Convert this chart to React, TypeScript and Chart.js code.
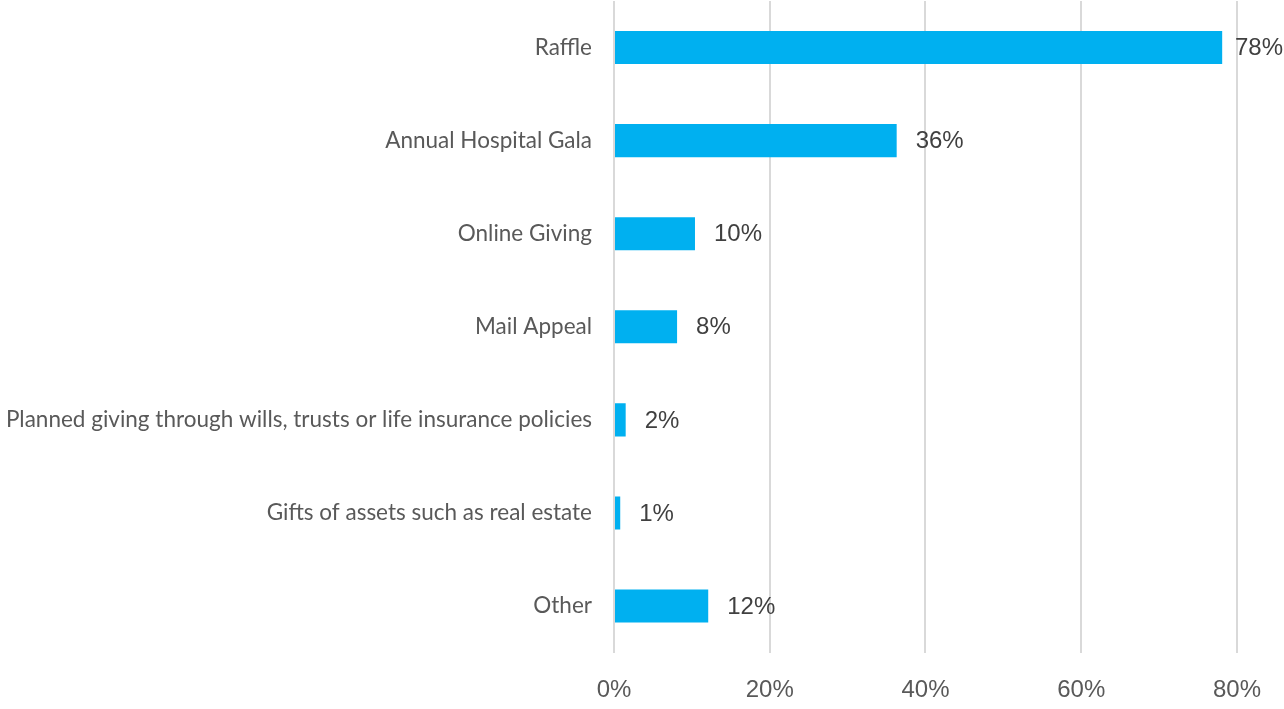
import React, { useEffect, useRef } from "react";
import { Chart, registerables } from "chart.js";

Chart.register(...registerables);

const categories = [
  "Raffle",
  "Annual Hospital Gala",
  "Online Giving",
  "Mail Appeal",
  "Planned giving through wills, trusts or life insurance policies",
  "Gifts of assets such as real estate",
  "Other",
];
const values = [78.1, 36.3, 10.4, 8.1, 1.5, 0.8, 12.1];
const valueLabels = ["78%", "36%", "10%", "8%", "2%", "1%", "12%"];
const xTicks = [0, 20, 40, 60, 80];

const W = 1284;
const H = 709;

const dataLabelPlugin = {
  id: "dataLabels",
  afterDatasetsDraw(chart: any) {
    const ctx = chart.ctx;
    const meta = chart.getDatasetMeta(0);
    ctx.save();
    ctx.font = "24px 'Liberation Sans', Arial, sans-serif";
    ctx.fillStyle = "#404040";
    ctx.textBaseline = "middle";
    ctx.textAlign = "left";
    meta.data.forEach((bar: any, i: number) => {
      const text = valueLabels[i];
      const w = ctx.measureText(text).width;
      let x = bar.x + 19;
      if (x + w > chart.width - 1) x = chart.width - 1 - w;
      ctx.fillText(text, x, bar.y + 1);
    });
    ctx.restore();
  },
};

export default function App() {
  const ref = useRef<HTMLCanvasElement | null>(null);
  useEffect(() => {
    if (!ref.current) return;
    const chart = new Chart(ref.current, {
      type: "bar",
      data: {
        labels: categories,
        datasets: [
          {
            data: values,
            backgroundColor: "#00B0F0",
            borderWidth: 0,
            categoryPercentage: 1,
            barPercentage: 0.355,
          },
        ],
      },
      options: {
        indexAxis: "y",
        animation: false,
        responsive: false,
        maintainAspectRatio: false,
        layout: { padding: { top: 1, right: 46, left: 0, bottom: 0 } },
        plugins: {
          legend: { display: false },
          tooltip: { enabled: false },
        },
        scales: {
          x: {
            min: 0,
            max: 80,
            afterBuildTicks: (axis: any) => {
              axis.ticks = xTicks.map((v) => ({ value: v }));
            },
            afterFit: (axis: any) => {
              axis.height = 56.4;
            },
            ticks: {
              callback: (v: any) => v + "%",
              font: { family: "'Liberation Sans', Arial, sans-serif", size: 24 },
              color: "#595959",
              padding: 23,
              maxRotation: 0,
            },
            grid: {
              color: "#d9d9d9",
              lineWidth: 2,
              drawTicks: false,
            },
            border: { display: false },
          },
          y: {
            afterFit: (axis: any) => {
              axis.width = 614;
              axis.paddingTop = 0;
              axis.paddingBottom = 0;
            },
            ticks: {
              font: { family: "Lato, 'Open Sans', sans-serif", size: 22.5 },
              color: "#595959",
              padding: 22,
            },
            grid: { display: false, drawTicks: false },
            border: { display: false },
          },
        },
      },
      plugins: [dataLabelPlugin],
    } as any);
    return () => chart.destroy();
  }, []);
  return (
    <div style={{ position: "fixed", left: 0, top: 0, width: W, height: H, background: "#fff" }}>
      <canvas ref={ref} width={W} height={H} style={{ width: W, height: H, display: "block" }} />
    </div>
  );
}
